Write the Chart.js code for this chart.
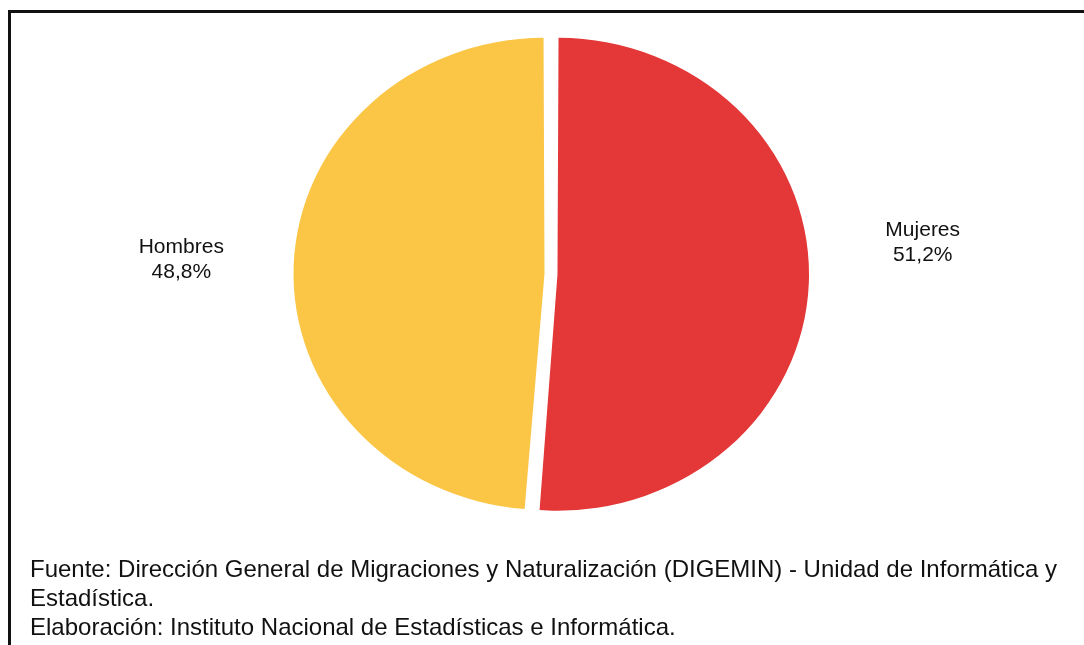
<!DOCTYPE html>
<html>
<head>
<meta charset="utf-8">
<script src="https://cdn.jsdelivr.net/npm/chart.js@4/dist/chart.umd.min.js"></script>
<style>
  body { margin: 0; background: #fff; width: 1084px; height: 645px; overflow: hidden; position: relative; }
  #frame { position: absolute; left: 8px; top: 10px; width: 1100px; height: 700px;
           border-top: 3px solid #111; border-left: 3px solid #111; }
  #chart { position: absolute; left: 0; top: 0; }
  #note { position: absolute; left: 30px; top: 554px; font: 24px "Liberation Sans", Arial, sans-serif;
          line-height: 29px; color: #111; white-space: nowrap; }
</style>
</head>
<body>
<div id="frame"></div>
<canvas id="chart" width="1084" height="645"></canvas>
<div id="note">
  Fuente: Dirección General de Migraciones y Naturalización (DIGEMIN) - Unidad de Informática y<br>
  Estadística.<br>
  Elaboración: Instituto Nacional de Estadísticas e Informática.
</div>
<script>
const categories = ['Mujeres', 'Hombres'];
const shares = [51.2, 48.8];
const colors = ['#E43737', '#FBC646'];

// the original pie is a bit squashed vertically
const squash = 0.94;

const ellipse = {
  id: 'ellipse',
  beforeDatasetsDraw(chart) {
    const arc = chart.getDatasetMeta(0).data[0];
    const ctx = chart.ctx;
    ctx.save();
    ctx.translate(arc.x, arc.y);
    ctx.scale(1, squash);
    ctx.translate(-arc.x, -arc.y);
  },
  afterDatasetsDraw(chart) {
    chart.ctx.restore();
  }
};

const labelShift = [[3, -44], [-1, -1]];

const sliceLabels = {
  id: 'sliceLabels',
  afterDraw(chart) {
    const ctx = chart.ctx;
    ctx.save();
    ctx.font = '21px "Liberation Sans", Arial, sans-serif';
    ctx.fillStyle = '#111';
    ctx.textAlign = 'center';
    ctx.textBaseline = 'middle';
    chart.getDatasetMeta(0).data.forEach((arc, i) => {
      const mid = (arc.startAngle + arc.endAngle) / 2;
      const r = 251 * 1.47;
      const x = arc.x + Math.cos(mid) * r + labelShift[i][0];
      const y = arc.y + Math.sin(mid) * r * squash + labelShift[i][1];
      ctx.fillText(categories[i], x, y - 12.5);
      ctx.fillText(shares[i].toFixed(1).replace('.', ',') + '%', x, y + 12.5);
    });
    ctx.restore();
  }
};

new Chart(document.getElementById('chart'), {
  type: 'pie',
  data: {
    labels: categories,
    datasets: [{
      data: shares,
      backgroundColor: colors,
      borderWidth: 0,
      offset: 26,
      radius: 245
    }]
  },
  options: {
    responsive: false,
    animation: false,
    layout: { padding: { left: 18, top: 0, right: 0, bottom: 97 } },
    plugins: { legend: { display: false }, tooltip: { enabled: false } }
  },
  plugins: [ellipse, sliceLabels]
});
</script>
</body>
</html>
